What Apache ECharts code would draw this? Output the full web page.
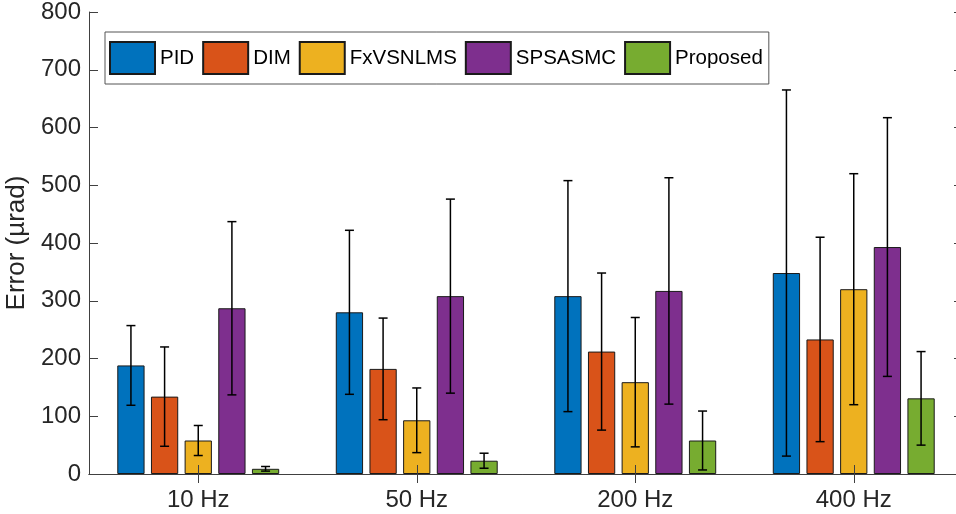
<!DOCTYPE html>
<html>
<head>
<meta charset="utf-8">
<script src="https://cdn.jsdelivr.net/npm/echarts@6/dist/echarts.min.js"></script>
<style>
html,body{margin:0;padding:0;background:#fff;}
#chart{width:956px;height:514px;}
</style>
</head>
<body>
<div id="chart"></div>
<script>
const categories = ['10 Hz', '50 Hz', '200 Hz', '400 Hz'];
const methods = ['PID', 'DIM', 'FxVSNLMS', 'SPSASMC', 'Proposed'];
const colors = ['#0072BD', '#D95319', '#EDB120', '#7E2F8E', '#77AC30'];

const pidMean = [188, 280, 308, 348];
const pidErr = [69, 142, 200, 317];
const dimMean = [134, 182, 212, 233];
const dimErr = [86, 88, 136, 177];
const fxMean = [58, 93, 159, 320];
const fxErr = [26, 56, 112, 200];
const spsMean = [287, 308, 317, 393];
const spsErr = [150, 168, 196, 224];
const propMean = [9, 23, 58, 131];
const propErr = [4, 13, 51, 81];

const yTicks = [0, 100, 200, 300, 400, 500, 600, 700, 800];

const means = [pidMean, dimMean, fxMean, spsMean, propMean];
const errs = [pidErr, dimErr, fxErr, spsErr, propErr];

const CAT_GAP = 0.259;
const BAR_GAP = 0.234;
const FONT = "'Liberation Sans', Arial, Helvetica, sans-serif";
const AXIS_COLOR = '#404040';
const TEXT_COLOR = '#262626';

const barSeries = methods.map((m, k) => ({
  name: m,
  type: 'bar',
  data: means[k],
  barCategoryGap: (CAT_GAP * 100) + '%',
  barGap: (BAR_GAP * 100) + '%',
  itemStyle: { color: colors[k], borderColor: '#1a1a1a', borderWidth: 1 },
  z: 2,
  animation: false
}));

const n = methods.length;
const errSeries = methods.map((m, k) => ({
  type: 'custom',
  name: m + ' err',
  z: 6,
  silent: true,
  animation: false,
  data: means[k].map((v, i) => [i, v - errs[k][i], v + errs[k][i]]),
  encode: { x: 0, y: [1, 2] },
  renderItem: function (params, api) {
    const cat = api.value(0);
    const lo = api.coord([cat, api.value(1)]);
    const hi = api.coord([cat, api.value(2)]);
    const band = api.size([1, 0])[0];
    const remained = band - band * CAT_GAP;
    const w = remained / (n + (n - 1) * BAR_GAP);
    const gap = w * BAR_GAP;
    const total = n * w + (n - 1) * gap;
    const x = lo[0] - total / 2 + k * (w + gap) + w / 2;
    const cap = 4.5;
    const style = { stroke: '#000', lineWidth: 1.5 };
    return {
      type: 'group',
      children: [
        { type: 'line', shape: { x1: x, y1: lo[1], x2: x, y2: hi[1] }, style: style },
        { type: 'line', shape: { x1: x - cap, y1: lo[1], x2: x + cap, y2: lo[1] }, style: style },
        { type: 'line', shape: { x1: x - cap, y1: hi[1], x2: x + cap, y2: hi[1] }, style: style }
      ]
    };
  }
}));

const chart = echarts.init(document.getElementById('chart'), null, { renderer: 'canvas' });
chart.setOption({
  animation: false,
  backgroundColor: '#ffffff',
  textStyle: { fontFamily: FONT },
  color: colors,
  grid: { left: 89, top: 12, width: 874, bottom: 40, containLabel: false, outerBoundsMode: 'none' },
  legend: {
    data: methods,
    left: 105,
    top: 32,
    orient: 'horizontal',
    itemWidth: 45,
    itemHeight: 32,
    itemGap: 8,
    padding: [9, 6, 9, 4],
    borderColor: '#555',
    borderWidth: 1,
    backgroundColor: '#fff',
    icon: 'rect',
    textStyle: { fontSize: 20.5, color: '#000', fontFamily: FONT },
    z: 10
  },
  xAxis: [
    {
      type: 'category',
      data: categories,
      position: 'bottom',
      z: 5,
      axisLine: { show: true, lineStyle: { color: AXIS_COLOR, width: 1 } },
      axisTick: { show: true, inside: true, length: 9, alignWithLabel: true, lineStyle: { color: AXIS_COLOR } },
      axisLabel: { fontSize: 24, color: TEXT_COLOR, margin: 14, fontFamily: FONT },
      splitLine: { show: false }
    },
    {
      type: 'category',
      data: categories,
      position: 'top',
      z: 5,
      axisLine: { show: true, lineStyle: { color: AXIS_COLOR, width: 1 } },
      axisTick: { show: true, inside: true, length: 9, alignWithLabel: true, lineStyle: { color: AXIS_COLOR } },
      axisLabel: { show: false },
      splitLine: { show: false }
    }
  ],
  yAxis: [
    {
      type: 'value',
      min: 0,
      max: 800,
      interval: 100,
      position: 'left',
      name: 'Error (µrad)',
      nameLocation: 'middle',
      nameGap: 54,
      nameTextStyle: { fontSize: 26, color: TEXT_COLOR, fontFamily: FONT },
      axisLine: { show: true, lineStyle: { color: AXIS_COLOR, width: 1 } },
      axisTick: { show: true, inside: true, length: 9, lineStyle: { color: AXIS_COLOR } },
      axisLabel: {
        fontSize: 24, color: TEXT_COLOR, margin: 8, fontFamily: FONT,
        customValues: yTicks,
        formatter: v => String(v)
      },
      splitLine: { show: false }
    },
    {
      type: 'value',
      min: 0,
      max: 800,
      interval: 100,
      position: 'right',
      axisLine: { show: true, lineStyle: { color: AXIS_COLOR, width: 1 } },
      axisTick: { show: true, inside: true, length: 9, lineStyle: { color: AXIS_COLOR } },
      axisLabel: { show: false },
      splitLine: { show: false }
    }
  ],
  series: barSeries.concat(errSeries)
});
</script>
</body>
</html>
